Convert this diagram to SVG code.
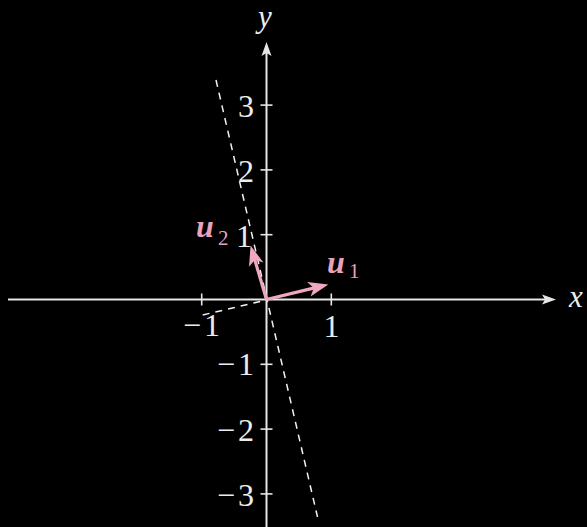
<svg xmlns="http://www.w3.org/2000/svg" width="587" height="527" viewBox="0 0 587 527">
<style>
.axis{stroke:#e6e6e6;stroke-width:2;fill:none}
.tick{stroke:#e6e6e6;stroke-width:1.6}
.dash{stroke:#f2f2f2;stroke-width:1.5;stroke-dasharray:7 6;fill:none}
.vec{stroke:#f0a8c0;stroke-width:3.2;fill:none}
.num{font-family:"Liberation Serif","DejaVu Serif",serif;font-size:32px;fill:#ececec}
.var{font-family:"Liberation Serif","DejaVu Serif",serif;font-size:31px;font-style:italic;fill:#ececec}
.vl{font-family:"Liberation Serif","DejaVu Serif",serif;font-style:italic;font-weight:bold;font-size:32px;fill:#e8a3bb}
.sub{font-family:"Liberation Serif","DejaVu Serif",serif;font-size:21px;fill:#e8a3bb}
</style>
<defs>
<marker id="ah" markerUnits="userSpaceOnUse" viewBox="-1 -6 16 12" markerWidth="16" markerHeight="12" refX="6" refY="0" orient="auto">
<path d="M0,-5 L14,0 L0,5 L3,0 Z" fill="#e6e6e6"/>
</marker>
<marker id="vh" markerUnits="userSpaceOnUse" viewBox="-1 -9 23 18" markerWidth="23" markerHeight="18" refX="10" refY="0" orient="auto">
<path d="M0,-7.5 L20,0 L0,7.5 L5,0 Z" fill="#f0a8c0"/>
</marker>
</defs>
<rect x="0" y="0" width="587" height="527" fill="#000"/>
<g id="connectors">
<line class="dash" x1="216" y1="80" x2="317.5" y2="517"/>
<line class="dash" x1="202.7" y1="315" x2="262" y2="301"/>
<line class="axis" x1="8" y1="299.5" x2="548" y2="299.5" marker-end="url(#ah)"/>
<line class="axis" x1="266.5" y1="527" x2="266.5" y2="50" marker-end="url(#ah)"/>
<g id="ticks">
<line class="tick" x1="201.7" y1="293.5" x2="201.7" y2="305.5"/>
<line class="tick" x1="331.3" y1="293.5" x2="331.3" y2="305.5"/>
<line class="tick" x1="260.5" y1="105.1" x2="272.5" y2="105.1"/>
<line class="tick" x1="260.5" y1="169.9" x2="272.5" y2="169.9"/>
<line class="tick" x1="260.5" y1="234.7" x2="272.5" y2="234.7"/>
<line class="tick" x1="260.5" y1="364.3" x2="272.5" y2="364.3"/>
<line class="tick" x1="260.5" y1="429.1" x2="272.5" y2="429.1"/>
<line class="tick" x1="260.5" y1="493.9" x2="272.5" y2="493.9"/>
</g>
<line class="vec" x1="266.5" y1="299.5" x2="318.6" y2="286.9" marker-end="url(#vh)"/>
<line class="vec" x1="266.5" y1="299.5" x2="253.4" y2="255.1" marker-end="url(#vh)"/>
</g>
<g id="labels">
<text class="var" x="569" y="307">x</text>
<text class="var" x="265" y="27" text-anchor="middle">y</text>
<text class="num" x="331.5" y="337" text-anchor="middle">1</text>
<text class="num" x="201.5" y="336" text-anchor="middle">−<tspan dx="3">1</tspan></text>
<text class="num" x="254" y="117" text-anchor="end">3</text>
<text class="num" x="254" y="182" text-anchor="end">2</text>
<text class="num" x="252" y="247" text-anchor="end">1</text>
<text class="num" x="254" y="375" text-anchor="end">−<tspan dx="3">1</tspan></text>
<text class="num" x="254" y="441" text-anchor="end">−<tspan dx="3">2</tspan></text>
<text class="num" x="254" y="506" text-anchor="end">−<tspan dx="3">3</tspan></text>
</g>
<g id="u1">
<text class="vl" x="327" y="273">u</text>
<text class="sub" x="349" y="278">1</text>
</g>
<g id="u2">
<text class="vl" x="196" y="237">u</text>
<text class="sub" x="218" y="245">2</text>
</g>
</svg>
